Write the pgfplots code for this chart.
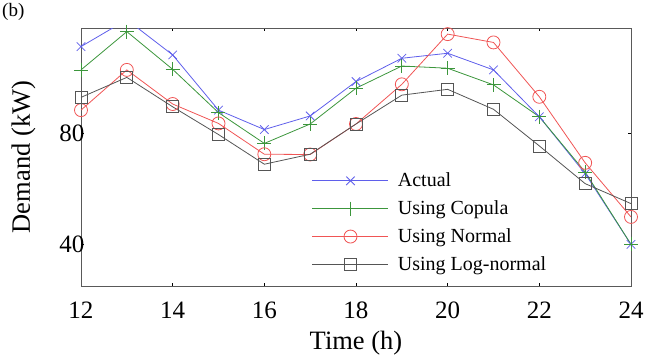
\documentclass[border=0pt]{standalone}
\usepackage{pgfplots}
\pgfplotsset{compat=1.18}
\usepackage{fontspec}
\setmainfont{Liberation Serif}
\definecolor{cA}{RGB}{95,95,235}
\definecolor{cC}{RGB}{60,150,60}
\definecolor{cN}{RGB}{240,85,85}
\definecolor{cL}{RGB}{85,85,85}
\begin{document}
\begin{tikzpicture}
\path[use as bounding box] (-81pt,-73pt) rectangle (565pt,286pt);
\begin{axis}[
  scale only axis, width=550pt, height=258pt,
  at={(0,0)}, anchor=south west,
  xmin=12, xmax=24, ymin=25, ymax=118,
  xtick={12,14,...,24}, ytick={40,80},
  tick align=inside, major tick length=3pt,
  tick style={black, line width=0.9pt},
  axis line style={draw=black!65, line width=0.7pt},
  /pgf/number format/assume math mode=true,
  tick label style={font=\fontsize{25}{25}\selectfont},
  xticklabel style={yshift=-12pt},
  yticklabel style={xshift=7pt},
  xlabel={Time (h)}, ylabel={Demand (kW)},
  xlabel style={font=\fontsize{26.5}{26.5}\selectfont, yshift=-6pt},
  ylabel style={font=\fontsize{26.5}{26.5}\selectfont, yshift=17pt},
  legend style={draw=white, fill=white, at={(rel axis cs:0.418,0.45)}, anchor=north west,
    font=\fontsize{20}{20}\selectfont, inner sep=1pt, row sep=8.5pt, column sep=7pt},
  legend cell align=left,
  legend image code/.code={\draw[mark repeat=2,mark phase=2] plot coordinates {(0pt,0pt)(38pt,0pt)(76pt,0pt)};},
  every axis plot/.append style={line width=0.8pt},
]
\addplot[cA, mark=x, mark size=6pt] coordinates {
(12,111.3)(13,121)(14,108.3)(15,88.4)(16,81.4)(17,86.3)(18,98.7)(19,107.1)(20,108.9)(21,102.9)(22,86.0)(23,65.5)(24,40.0)};
\addlegendentry{Actual}
\addplot[cC, mark=+, mark size=7pt] coordinates {
(12,102.9)(13,116.7)(14,103.1)(15,87.5)(16,76.4)(17,83.4)(18,96.3)(19,104.3)(20,103.5)(21,97.5)(22,86.0)(23,66.1)(24,40.0)};
\addlegendentry{Using Copula}
\addplot[cN, mark=o, mark size=6.5pt] coordinates {
(12,88.4)(13,102.9)(14,90.6)(15,83.6)(16,72.5)(17,72.4)(18,83.4)(19,97.7)(20,115.8)(21,112.8)(22,93.2)(23,69.4)(24,49.9)};
\addlegendentry{Using Normal}
\addplot[cL, mark=square, mark size=6pt] coordinates {
(12,93.0)(13,100.2)(14,89.6)(15,79.6)(16,68.9)(17,72.5)(18,83.4)(19,93.8)(20,95.9)(21,88.7)(22,75.5)(23,61.9)(24,54.7)};
\addlegendentry{Using Log-normal}
\end{axis}
\node[anchor=north west, font=\fontsize{19}{19}\selectfont, inner sep=0pt] at (-79pt,283pt) {(b)};
\end{tikzpicture}
\end{document}
